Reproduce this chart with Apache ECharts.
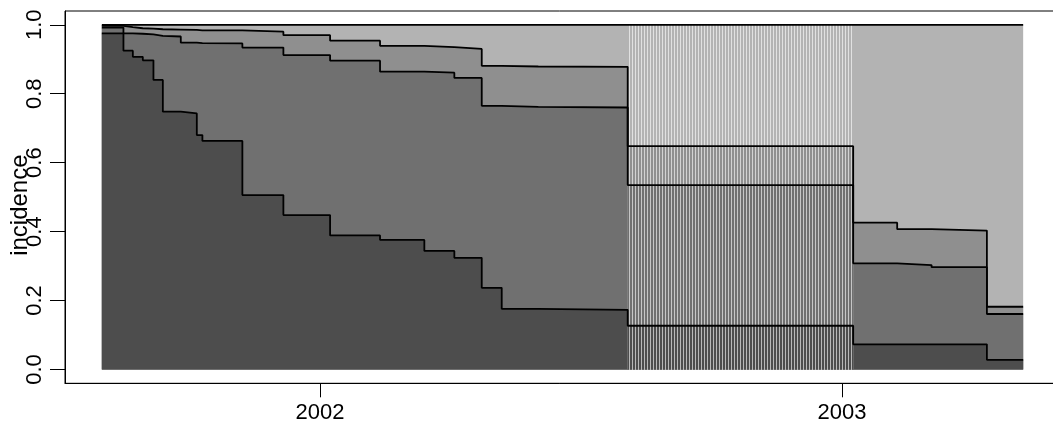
<!DOCTYPE html>
<html>
<head>
<meta charset="utf-8">
<script src="https://cdn.jsdelivr.net/npm/echarts@6/dist/echarts.min.js"></script>
<style>
  html, body { margin: 0; padding: 0; background: #fff; }
  #chart { width: 1053px; height: 432px; }
</style>
</head>
<body>
<div id="chart"></div>
<script>
// step times (decimal years) and cumulative levels
var stepTimes = [2001.5818, 2001.6232, 2001.6412, 2001.6603, 2001.6807, 2001.6987,
  2001.7331, 2001.7638, 2001.7745, 2001.8511, 2001.9297, 2002.0192, 2002.1149,
  2002.1998, 2002.2573, 2002.3098, 2002.3481, 2002.4182, 2002.5895, 2003.0216,
  2003.1059, 2003.1718, 2003.2778, 2003.3473];
var level1 = [0.975, 0.925, 0.907, 0.897, 0.840, 0.748, 0.743, 0.680, 0.663, 0.506,
  0.448, 0.389, 0.376, 0.344, 0.324, 0.237, 0.176, 0.173, 0.127, 0.073, 0.073, 0.073,
  0.028, 0.028];
var level2 = [0.992, 0.975, 0.974, 0.972, 0.968, 0.966, 0.948, 0.947, 0.946, 0.934,
  0.912, 0.896, 0.864, 0.861, 0.846, 0.765, 0.762, 0.760, 0.535, 0.308, 0.303, 0.297,
  0.161, 0.161];
var level3 = [0.997, 0.993, 0.990, 0.989, 0.987, 0.986, 0.985, 0.984, 0.984, 0.980,
  0.970, 0.954, 0.939, 0.935, 0.930, 0.881, 0.879, 0.878, 0.648, 0.426, 0.407, 0.403,
  0.182, 0.182];
var topLevel = 1;
// the shaded (striped) interval runs from stepTimes[18] to stepTimes[19]
var hatchIndex = 18;

var yTicks = [0, 0.2, 0.4, 0.6, 0.8, 1.0];
var xTicks = [2002, 2003];

var bandColors = ['#4d4d4d', '#707070', '#8f8f8f', '#b3b3b3'];

function toPairs(vals) {
  return stepTimes.map(function (t, i) { return [t, vals[i]]; });
}
function hatchPairs(vals) {
  var i = hatchIndex;
  var v = (typeof vals === 'number') ? vals : vals[i];
  return [[stepTimes[i], v], [stepTimes[i + 1], v]];
}
function lighten(hex, k) {
  var n = parseInt(hex.slice(1), 16);
  var r = n >> 16, g = (n >> 8) & 255, b = n & 255;
  r = Math.round(r + (255 - r) * k);
  g = Math.round(g + (255 - g) * k);
  b = Math.round(b + (255 - b) * k);
  return 'rgb(' + r + ',' + g + ',' + b + ')';
}
// vertical stripe pattern
function stripes(hex) {
  var c = document.createElement('canvas');
  c.width = 3; c.height = 4;
  var ctx = c.getContext('2d');
  ctx.fillStyle = hex;
  ctx.fillRect(0, 0, 3, 4);
  ctx.fillStyle = lighten(hex, 0.6);
  ctx.fillRect(2, 0, 1, 4);
  return { image: c, repeat: 'repeat' };
}

function areaSeries(data, color, z) {
  return {
    type: 'line', step: 'end', data: data, symbol: 'none', silent: true,
    z: z, lineStyle: { width: 0, opacity: 0 },
    areaStyle: { color: color, opacity: 1 }
  };
}
function lineSeries(data) {
  return {
    type: 'line', step: 'end', data: data, symbol: 'none', silent: true,
    z: 10, lineStyle: { color: '#000', width: 1.8 }
  };
}

var allTop = stepTimes.map(function (t) { return [t, topLevel]; });

var series = [
  areaSeries(allTop, bandColors[3], 2),
  areaSeries(toPairs(level3), bandColors[2], 3),
  areaSeries(toPairs(level2), bandColors[1], 4),
  areaSeries(toPairs(level1), bandColors[0], 5),
  areaSeries(hatchPairs(topLevel), stripes(bandColors[3]), 6),
  areaSeries(hatchPairs(level3), stripes(bandColors[2]), 7),
  areaSeries(hatchPairs(level2), stripes(bandColors[1]), 8),
  areaSeries(hatchPairs(level1), stripes(bandColors[0]), 9),
  lineSeries(allTop),
  lineSeries(toPairs(level3)),
  lineSeries(toPairs(level2)),
  lineSeries(toPairs(level1))
];

var myChart = echarts.init(document.getElementById('chart'), null, { renderer: 'canvas' });

var option = {
  animation: false,
  backgroundColor: '#fff',
  grid: {
    left: 65,
    top: 11,
    right: -7,
    bottom: 48.7,
    show: true,
    borderColor: '#000',
    borderWidth: 1,
    containLabel: false,
    outerBoundsMode: 'none'
  },
  xAxis: {
    type: 'value',
    min: 2001.5112,
    max: 2003.4179,
    axisLine: { show: true, onZero: false, lineStyle: { color: '#000', width: 1 } },
    axisTick: { show: true, length: 14, customValues: xTicks, lineStyle: { color: '#000' } },
    axisLabel: {
      customValues: xTicks, margin: 19, color: '#000',
      fontFamily: 'Liberation Sans', fontSize: 22,
      formatter: function (v) { return String(v); }
    },
    splitLine: { show: false }
  },
  yAxis: {
    type: 'value',
    min: -0.04,
    max: 1.04,
    name: 'incidence',
    nameLocation: 'middle',
    nameGap: 33,
    nameMoveOverlap: false,
    nameTextStyle: {
      fontFamily: 'Liberation Sans', fontSize: 24, color: '#000',
      padding: [0, 16, 0, 0]
    },
    axisLine: { show: true, onZero: false, lineStyle: { color: '#000', width: 1 } },
    axisTick: { show: true, length: 15, customValues: yTicks, lineStyle: { color: '#000' } },
    axisLabel: {
      customValues: yTicks, rotate: 90, margin: 19, color: '#000',
      fontFamily: 'Liberation Sans', fontSize: 22,
      formatter: function (v) { return v.toFixed(1); }
    },
    splitLine: { show: false }
  },
  series: series
};

myChart.setOption(option);
</script>
</body>
</html>
